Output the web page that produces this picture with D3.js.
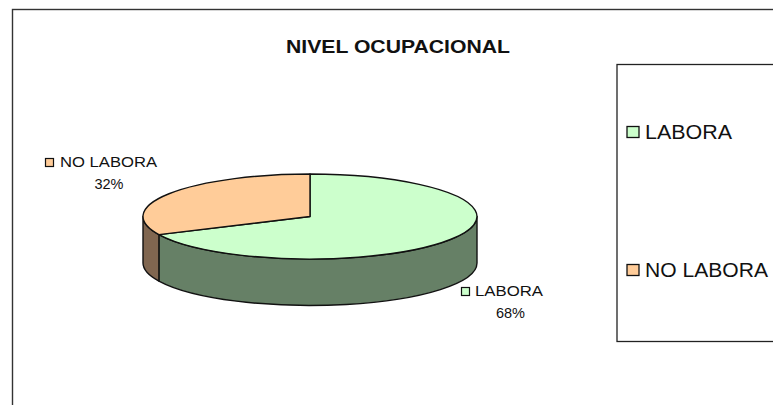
<!DOCTYPE html>
<html><head><meta charset="utf-8">
<script src="https://cdn.jsdelivr.net/npm/d3@7"></script>
<style>html,body{margin:0;padding:0;background:#fff;overflow:hidden}svg{display:block}text{font-family:"Liberation Sans",Arial,sans-serif;fill:#111}</style>
</head><body><svg id="c" width="773" height="405"></svg>
<script>
const categories = ["LABORA", "NO LABORA"];
const values = [68, 32];
const topColors = ["#CCFFCC", "#FFCC99"];
const sideColors = ["#668066", "#806650"];
const titleText = "NIVEL OCUPACIONAL";

const svg = d3.select("#c");
const W = 773, H = 405;
const cx = 310, cy = 216.5, rx = 167, ry = 42.5, depth = 46.5;
const ink = "#111";

// chart frame (runs off the right and bottom of the window)
svg.append("rect").attr("x", 12.5).attr("y", 9.5).attr("width", W + 20).attr("height", H + 20)
  .attr("fill", "#fff").attr("stroke", "#333").attr("stroke-width", 1.4);

svg.append("text").attr("x", 286).attr("y", 53)
  .attr("font-size", 18).attr("font-weight", "bold")
  .attr("textLength", 224).attr("lengthAdjust", "spacingAndGlyphs").text(titleText);

const arcs = d3.pie().value(d => d).sort(null)(values);
const px = a => cx + rx * Math.sin(a);
const py = (a, dz = 0) => cy - ry * Math.cos(a) + dz;

// side wall: only the front half of the disc is visible
const visStart = Math.PI / 2, visEnd = 3 * Math.PI / 2;
arcs.forEach((d, i) => {
  const a0 = Math.max(d.startAngle, visStart), a1 = Math.min(d.endAngle, visEnd);
  if (a1 <= a0) return;
  const large = a1 - a0 > Math.PI ? 1 : 0;
  const p = `M${px(a0)},${py(a0)}A${rx},${ry} 0 ${large} 1 ${px(a1)},${py(a1)}` +
    `L${px(a1)},${py(a1, depth)}A${rx},${ry} 0 ${large} 0 ${px(a0)},${py(a0, depth)}Z`;
  svg.append("path").attr("d", p).attr("fill", sideColors[i])
    .attr("stroke", ink).attr("stroke-width", 1.4).attr("stroke-linejoin", "round");
});

// top faces
arcs.forEach((d, i) => {
  const large = d.endAngle - d.startAngle > Math.PI ? 1 : 0;
  const p = `M${cx},${cy}L${px(d.startAngle)},${py(d.startAngle)}` +
    `A${rx},${ry} 0 ${large} 1 ${px(d.endAngle)},${py(d.endAngle)}Z`;
  svg.append("path").attr("d", p).attr("fill", topColors[i])
    .attr("stroke", ink).attr("stroke-width", 1.4).attr("stroke-linejoin", "round");
});

// data labels
const dataLabels = [
  {i: 0, key: 461, textX: 475, len: 68, y1: 296, pctX: 510.5, y2: 318},
  {i: 1, key: 45, textX: 60, len: 97, y1: 167, pctX: 109, y2: 189}
];
dataLabels.forEach(l => {
  svg.append("rect").attr("x", l.key + .5).attr("y", l.y1 - 8.5).attr("width", 8).attr("height", 8)
    .attr("fill", topColors[l.i]).attr("stroke", ink).attr("stroke-width", 1.2);
  svg.append("text").attr("x", l.textX).attr("y", l.y1).attr("font-size", 14)
    .attr("textLength", l.len).attr("lengthAdjust", "spacingAndGlyphs").text(categories[l.i]);
  svg.append("text").attr("x", l.pctX).attr("y", l.y2).attr("font-size", 14.5).attr("text-anchor", "middle").text(values[l.i] + "%");
});

// legend box
svg.append("rect").attr("x", 617).attr("y", 64.5).attr("width", 200).attr("height", 277)
  .attr("fill", "#fff").attr("stroke", "#222").attr("stroke-width", 1.3);
const legendY = d3.scalePoint().domain(categories).range([132, 270]);
const legendLen = [87, 123];
categories.forEach((c, i) => {
  const y = legendY(c);
  svg.append("rect").attr("x", 627).attr("y", y - 5.5).attr("width", 12).attr("height", 11)
    .attr("fill", topColors[i]).attr("stroke", ink).attr("stroke-width", 1.3);
  svg.append("text").attr("x", 645).attr("y", y + 7).attr("font-size", 20).attr("fill", "#222")
    .attr("textLength", legendLen[i]).attr("lengthAdjust", "spacingAndGlyphs").text(c);
});
</script></body></html>
